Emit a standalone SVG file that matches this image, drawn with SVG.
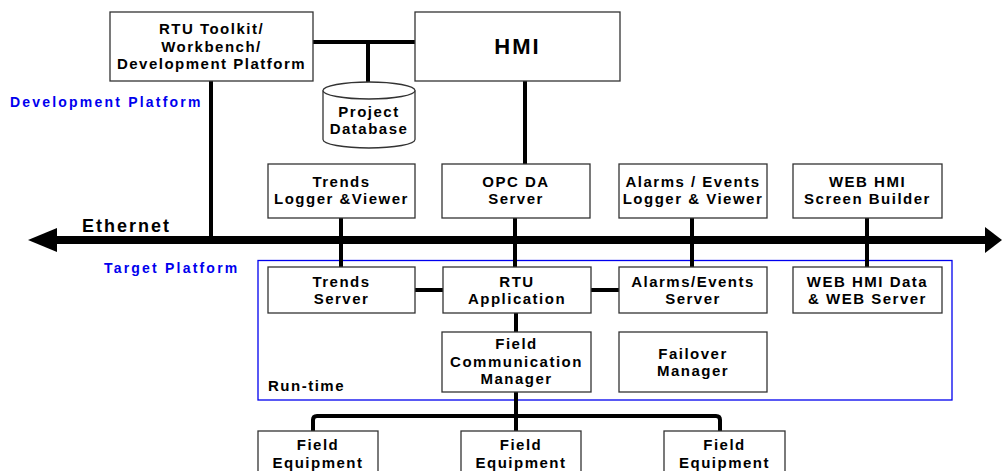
<svg xmlns="http://www.w3.org/2000/svg" width="1002" height="471" viewBox="0 0 1002 471">
<style>
.box{fill:#fff;stroke:#333;stroke-width:1.3}
.t{font-family:"Liberation Sans",Arial,sans-serif;font-weight:bold;font-size:15px;fill:#000;text-anchor:middle;letter-spacing:1.5px}
.blue{font-family:"Liberation Sans",Arial,sans-serif;font-weight:bold;font-size:14px;fill:#0000ee;letter-spacing:2.2px}
.c{fill:none;stroke:#000;stroke-width:4}
</style>
<rect x="0" y="0" width="1002" height="471" fill="#fff"/>
<g id="target-platform">
<rect x="258" y="260.5" width="694" height="139.5" fill="none" stroke="#0000ee" stroke-width="1.3"/>
<text class="blue" x="104" y="273">Target Platform</text>
<text class="t" x="268" y="391" style="text-anchor:start">Run-time</text>
</g>
<text class="blue" x="10" y="107">Development Platform</text>
<g id="connectors">
<line class="c" x1="313" y1="42" x2="415" y2="42"/>
<line class="c" x1="368" y1="42" x2="368" y2="82"/>
<line class="c" x1="211" y1="81" x2="211" y2="240"/>
<line class="c" x1="525" y1="81" x2="525" y2="164"/>
<line class="c" x1="341" y1="218" x2="341" y2="267"/>
<line class="c" x1="515" y1="218" x2="515" y2="267"/>
<line class="c" x1="692" y1="218" x2="692" y2="267"/>
<line class="c" x1="867" y1="218" x2="867" y2="267"/>
<line class="c" x1="415" y1="290" x2="443" y2="290"/>
<line class="c" x1="591" y1="290" x2="619" y2="290"/>
<line class="c" x1="516" y1="313" x2="516" y2="332"/>
<line class="c" x1="516" y1="392" x2="516" y2="431"/>
<path class="c" d="M313,431 V420 Q313,416 317,416 H716 Q720,416 720,420 V431"/>
<line x1="55" y1="240" x2="987" y2="240" stroke="#000" stroke-width="8"/>
<polygon points="28,240 57,228 57,252"/>
<polygon points="1002,240 985,227 985,253"/>
<text x="82" y="232" style="font-family:'Liberation Sans',Arial,sans-serif;font-weight:bold;font-size:18px;letter-spacing:2px">Ethernet</text>
</g>
<g id="rtu-toolkit">
<rect class="box" x="110" y="12" width="203" height="69"/>
<text class="t" x="211.5" y="34">RTU Toolkit/</text>
<text class="t" x="211.5" y="52">Workbench/</text>
<text class="t" x="211.5" y="69">Development Platform</text>
</g>
<g id="hmi">
<rect class="box" x="415" y="12" width="205" height="69"/>
<text class="t" x="517.5" y="54" style="font-size:22px;letter-spacing:2px">HMI</text>
</g>
<g id="project-database">
<path d="M323,90.5 V139.5 A46,8.5 0 0 0 415,139.5 V90.5" fill="#fff" stroke="#333" stroke-width="1.3"/>
<ellipse cx="369" cy="90.5" rx="46" ry="8.5" fill="#fff" stroke="#333" stroke-width="1.3"/>
<text class="t" x="369" y="117">Project</text>
<text class="t" x="369" y="134">Database</text>
</g>
<g id="trends-logger">
<rect class="box" x="268" y="164" width="147" height="54"/>
<text class="t" x="341.5" y="187">Trends</text>
<text class="t" x="341.5" y="204">Logger &amp;Viewer</text>
</g>
<g id="opc-da">
<rect class="box" x="442" y="164" width="148" height="54"/>
<text class="t" x="516" y="187">OPC DA</text>
<text class="t" x="516" y="204">Server</text>
</g>
<g id="alarms-logger">
<rect class="box" x="619" y="164" width="148" height="54"/>
<text class="t" x="693" y="187">Alarms / Events</text>
<text class="t" x="693" y="204">Logger &amp; Viewer</text>
</g>
<g id="web-builder">
<rect class="box" x="793" y="164" width="149" height="54"/>
<text class="t" x="867.5" y="187">WEB HMI</text>
<text class="t" x="867.5" y="204">Screen Builder</text>
</g>
<g id="trends-server">
<rect class="box" x="268" y="267" width="147" height="46"/>
<text class="t" x="341.5" y="287">Trends</text>
<text class="t" x="341.5" y="304">Server</text>
</g>
<g id="rtu-app">
<rect class="box" x="443" y="267" width="148" height="46"/>
<text class="t" x="517" y="287">RTU</text>
<text class="t" x="517" y="304">Application</text>
</g>
<g id="alarms-server">
<rect class="box" x="619" y="267" width="148" height="46"/>
<text class="t" x="693" y="287">Alarms/Events</text>
<text class="t" x="693" y="304">Server</text>
</g>
<g id="web-server">
<rect class="box" x="793" y="267" width="149" height="46"/>
<text class="t" x="867.5" y="287">WEB HMI Data</text>
<text class="t" x="867.5" y="304">&amp; WEB Server</text>
</g>
<g id="fcm">
<rect class="box" x="442" y="332" width="149" height="60"/>
<text class="t" x="516.5" y="349">Field</text>
<text class="t" x="516.5" y="367">Communication</text>
<text class="t" x="516.5" y="384">Manager</text>
</g>
<g id="failover">
<rect class="box" x="619" y="332" width="148" height="60"/>
<text class="t" x="693" y="359">Failover</text>
<text class="t" x="693" y="376">Manager</text>
</g>
<g id="field-1">
<rect class="box" x="258" y="431" width="120" height="50"/>
<text class="t" x="318" y="450">Field</text>
<text class="t" x="318" y="468">Equipment</text>
</g>
<g id="field-2">
<rect class="box" x="461" y="431" width="120" height="50"/>
<text class="t" x="521" y="450">Field</text>
<text class="t" x="521" y="468">Equipment</text>
</g>
<g id="field-3">
<rect class="box" x="664" y="431" width="121" height="50"/>
<text class="t" x="724.5" y="450">Field</text>
<text class="t" x="724.5" y="468">Equipment</text>
</g>
</svg>
